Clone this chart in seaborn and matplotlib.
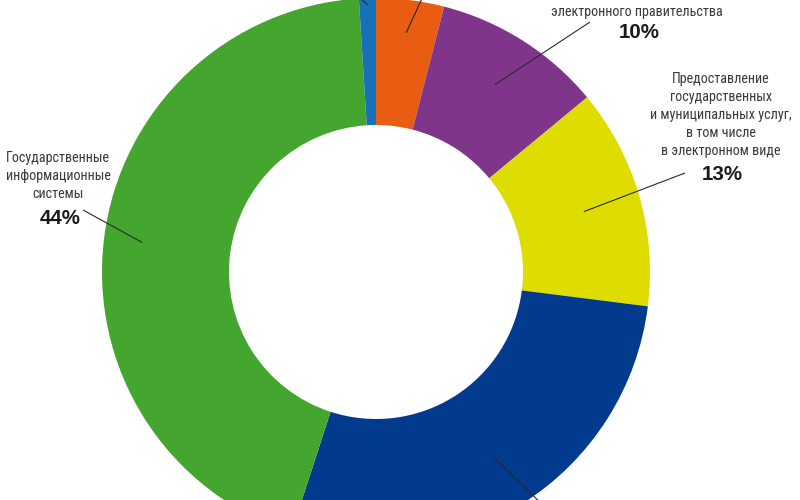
import numpy as np
import matplotlib
matplotlib.use("Agg")
import matplotlib.pyplot as plt
import seaborn as sns
from matplotlib import font_manager

# ---- data ----
categories = ["Инфраструктура", "Формирование электронного правительства",
              "Предоставление услуг", "Прочее", "Государственные информационные системы",
              "Иное"]
values = [4, 10, 13, 28, 44, 1]
colors = ["#E85D12", "#7E358A", "#DEDC00", "#023A8E", "#45A62F", "#1671B9"]

label_purple = "электронного правительства"
pct_purple = "10%"
label_yellow = "Предоставление\nгосударственных\nи муниципальных услуг,\nв том числе\nв электронном виде"
pct_yellow = "13%"
label_green = "Государственные\nинформационные\nсистемы"
pct_green = "44%"

sns.set_theme(style="white")
avail = {f.name for f in font_manager.fontManager.ttflist}
narrow = [f for f in ["Liberation Sans Narrow", "DejaVu Sans Condensed", "Roboto Condensed",
                      "Liberation Sans", "DejaVu Sans"] if f in avail]
plt.rcParams["font.family"] = narrow + ["DejaVu Sans"]

W, H = 800, 500
fig = plt.figure(figsize=(8, 5), dpi=100)
ax = fig.add_axes([0, 0, 1, 1])
ax.set_xlim(0, W)
ax.set_ylim(0, H)
ax.set_aspect("equal")
ax.axis("off")

cx, cy, R, r_in = 376, H - 272, 274, 147
ax.pie(values, colors=colors, startangle=90, counterclock=False,
       center=(cx, cy), radius=R, frame=True,
       wedgeprops=dict(width=R - r_in, linewidth=0))
ax.set_xlim(0, W)
ax.set_ylim(0, H)
ax.axis("off")

# slice mid angles (degrees clockwise from top)
cum = np.cumsum([0] + values)
mids = [(cum[i] + cum[i + 1]) / 2 * 3.6 for i in range(len(values))]

def pt(angle_deg, rad):
    a = np.deg2rad(angle_deg)
    return cx + rad * np.sin(a), cy + rad * np.cos(a)

def yy(y):
    return H - y

# leader lines: (slice index, radius fraction, end point in pixel coords)
leaders = [(0, 0.88, (425, -8)), (1, 0.81, (590, 22)), (2, 0.79, (685, 173)),
           (3, 0.80, (548, 510)), (4, 0.86, (83, 210)), (5, 0.975, (352, -10))]
for idx, frac, (ex, ey) in leaders:
    sx, sy = pt(mids[idx], R * frac)
    ax.plot([sx, ex], [sy, yy(ey)], color="#2a2a2a", lw=0.8, solid_capstyle="butt")

tc = "#3a3a3a"
pc = "#1a1a1a"
fs = 10.2
pfs = 14.8
pfam = ["Liberation Sans", "DejaVu Sans"]
ax.text(637, yy(12), label_purple, ha="center", va="center", fontsize=fs, color=tc)
ax.text(639, yy(33), pct_purple, ha="center", va="center", fontsize=pfs, fontweight="bold",
        color=pc, family=pfam)
ax.text(721, yy(115), label_yellow, ha="center", va="center", fontsize=fs, color=tc,
        linespacing=1.38)
ax.text(722, yy(174), pct_yellow, ha="center", va="center", fontsize=pfs, fontweight="bold",
        color=pc, family=pfam)
ax.text(58, yy(176), label_green, ha="center", va="center", fontsize=fs, color=tc,
        linespacing=1.38)
ax.text(60, yy(218), pct_green, ha="center", va="center", fontsize=pfs, fontweight="bold",
        color=pc, family=pfam)

fig.savefig("out.png", dpi=100)
